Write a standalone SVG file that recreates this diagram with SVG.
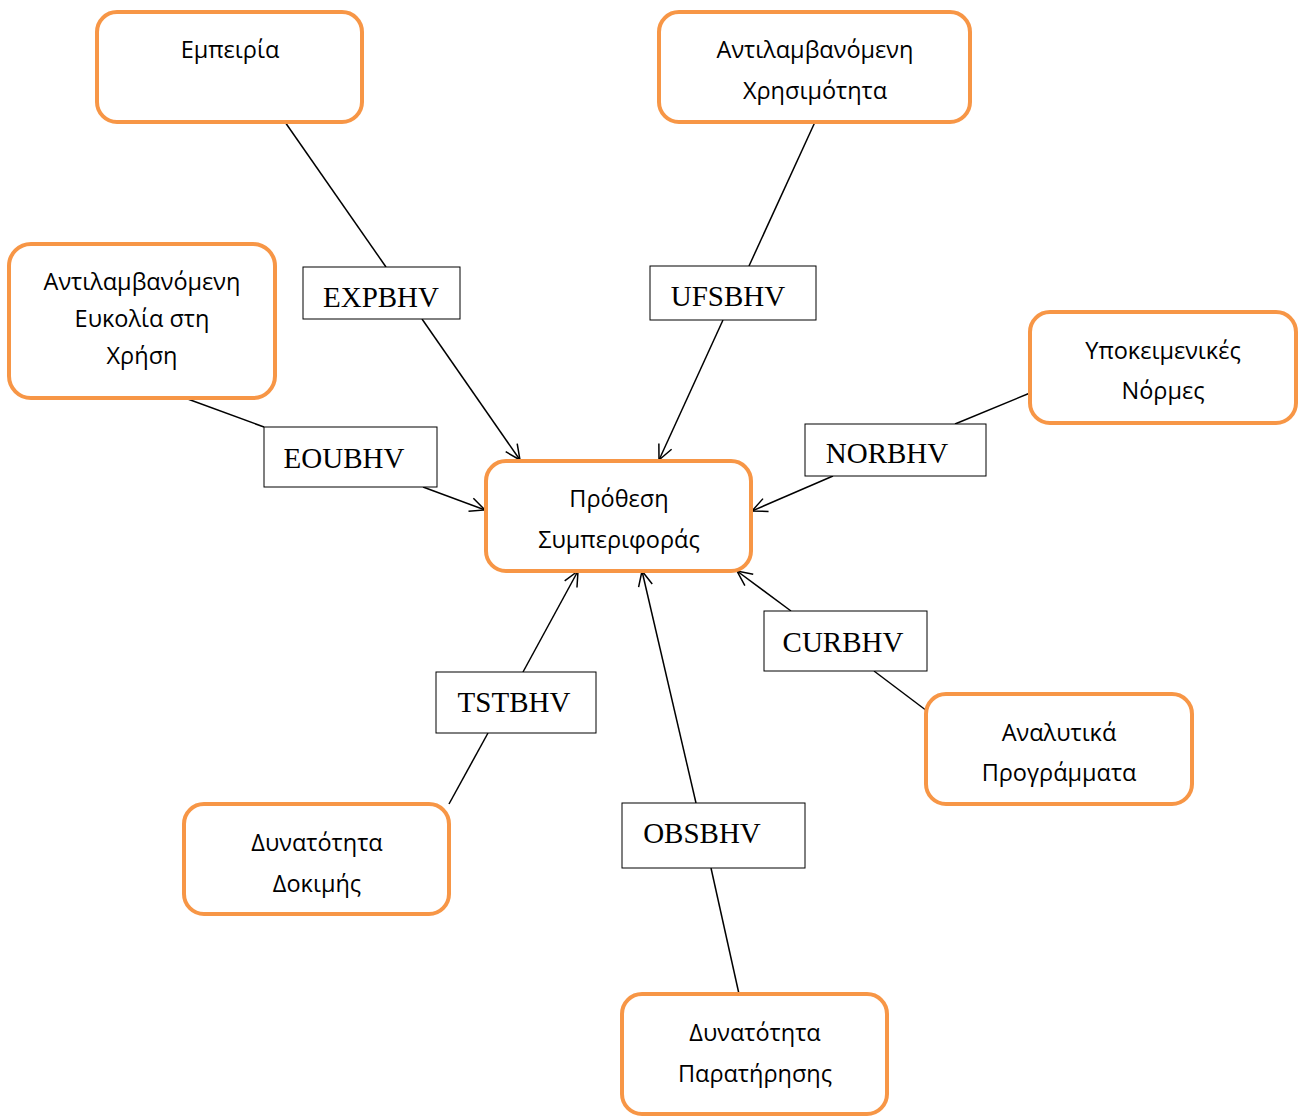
<svg xmlns="http://www.w3.org/2000/svg" width="1301" height="1116" viewBox="0 0 1301 1116">
<style>
.node{fill:#fff;stroke:#F79646;stroke-width:4}
.lab{fill:#fff;stroke:#000;stroke-width:1}
.t{font-family:"Open Sans","Noto Sans",sans-serif;font-size:23.5px;fill:#000;text-anchor:middle}
.l{font-family:"Liberation Serif","DejaVu Serif",serif;font-size:29px;fill:#000;text-anchor:middle}
.c{stroke:#000;stroke-width:1.5;fill:none}
</style>
<defs>
<marker id="arr" markerWidth="20" markerHeight="20" refX="16" refY="8" orient="auto" markerUnits="userSpaceOnUse">
<path d="M1,1 L16,8 L1,15" fill="none" stroke="#000" stroke-width="1.5"/>
</marker>
</defs>
<g id="connectors">
<line class="c" x1="285" y1="122" x2="386" y2="267"/>
<line class="c" x1="422" y1="319" x2="520" y2="460" marker-end="url(#arr)"/>
<line class="c" x1="815" y1="122" x2="749" y2="266"/>
<line class="c" x1="723" y1="320" x2="659" y2="460" marker-end="url(#arr)"/>
<line class="c" x1="185" y1="398" x2="264" y2="427"/>
<line class="c" x1="423" y1="487" x2="485" y2="510" marker-end="url(#arr)"/>
<line class="c" x1="1030" y1="393" x2="955" y2="424"/>
<line class="c" x1="833" y1="476" x2="752" y2="511" marker-end="url(#arr)"/>
<line class="c" x1="791" y1="611" x2="737" y2="571" marker-end="url(#arr)"/>
<line class="c" x1="874" y1="671" x2="927" y2="711"/>
<line class="c" x1="523" y1="672" x2="578" y2="571" marker-end="url(#arr)"/>
<line class="c" x1="488" y1="733" x2="449" y2="804"/>
<line class="c" x1="696" y1="803" x2="642" y2="571" marker-end="url(#arr)"/>
<line class="c" x1="711" y1="868" x2="739" y2="994"/>
</g>
<g id="exp">
<rect class="node" x="97" y="12" width="265" height="110" rx="20"/>
<text class="t" x="230" y="58">Εμπειρία</text>
</g>
<g id="ufs">
<rect class="node" x="659" y="12" width="311" height="110" rx="20"/>
<text class="t" x="815" y="58">Αντιλαμβανόμενη</text>
<text class="t" x="815" y="99">Χρησιμότητα</text>
</g>
<g id="eou">
<rect class="node" x="9" y="244" width="266" height="154" rx="22"/>
<text class="t" x="142" y="290">Αντιλαμβανόμενη</text>
<text class="t" x="142" y="327">Ευκολία στη</text>
<text class="t" x="142" y="364">Χρήση</text>
</g>
<g id="nor">
<rect class="node" x="1030" y="312" width="266" height="111" rx="20"/>
<text class="t" x="1163" y="359">Υποκειμενικές</text>
<text class="t" x="1163" y="399">Νόρμες</text>
</g>
<g id="intent">
<rect class="node" x="486" y="461" width="265" height="110" rx="20"/>
<text class="t" x="619" y="507">Πρόθεση</text>
<text class="t" x="619" y="548">Συμπεριφοράς</text>
</g>
<g id="cur">
<rect class="node" x="926" y="694" width="266" height="110" rx="20"/>
<text class="t" x="1059" y="741">Αναλυτικά</text>
<text class="t" x="1059" y="781">Προγράμματα</text>
</g>
<g id="tst">
<rect class="node" x="184" y="804" width="265" height="110" rx="20"/>
<text class="t" x="317" y="851">Δυνατότητα</text>
<text class="t" x="317" y="892">Δοκιμής</text>
</g>
<g id="obs">
<rect class="node" x="622" y="994" width="265" height="120" rx="20"/>
<text class="t" x="755" y="1041">Δυνατότητα</text>
<text class="t" x="755" y="1082">Παρατήρησης</text>
</g>
<g id="label-exp"><rect class="lab" x="303" y="267" width="157" height="52"/><text class="l" x="381" y="307">EXPBHV</text></g>
<g id="label-ufs"><rect class="lab" x="650" y="266" width="166" height="54"/><text class="l" x="728" y="306">UFSBHV</text></g>
<g id="label-eou"><rect class="lab" x="264" y="427" width="173" height="60"/><text class="l" x="344" y="468">EOUBHV</text></g>
<g id="label-nor"><rect class="lab" x="805" y="424" width="181" height="52"/><text class="l" x="887" y="463">NORBHV</text></g>
<g id="label-cur"><rect class="lab" x="764" y="611" width="163" height="60"/><text class="l" x="843" y="652">CURBHV</text></g>
<g id="label-tst"><rect class="lab" x="436" y="672" width="160" height="61"/><text class="l" x="514" y="712">TSTBHV</text></g>
<g id="label-obs"><rect class="lab" x="622" y="803" width="183" height="65"/><text class="l" x="702" y="843">OBSBHV</text></g>
</svg>
